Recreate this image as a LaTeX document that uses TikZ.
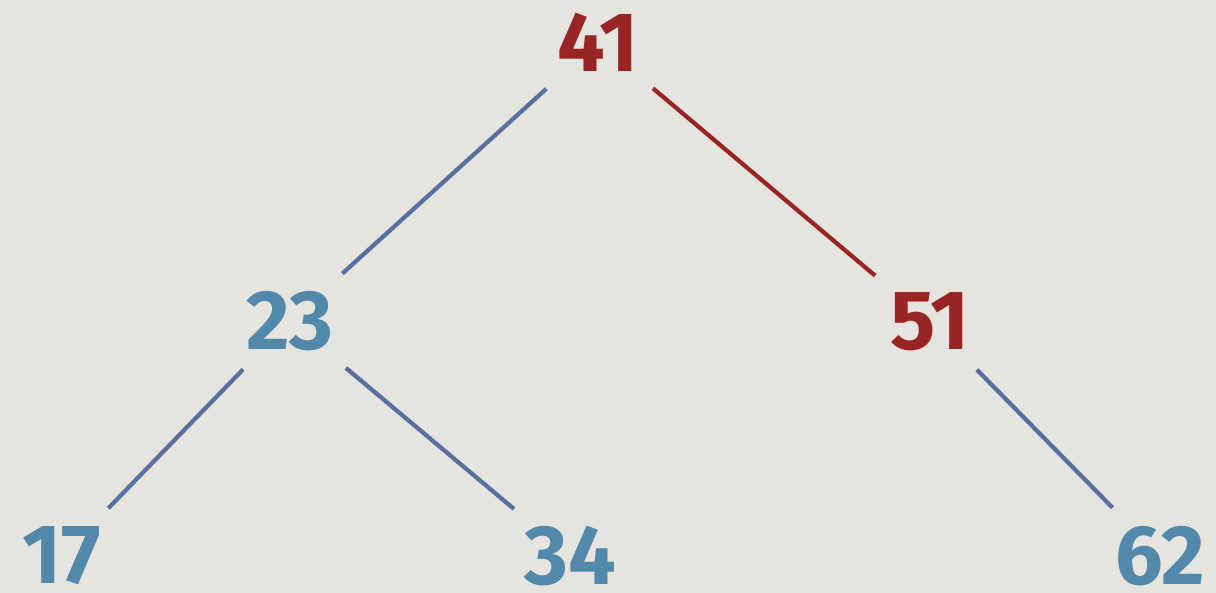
\documentclass[tikz,border=0pt]{standalone}
\usepackage{fontspec}
\setmainfont{Fira Sans}
\usetikzlibrary{positioning}
\definecolor{paper}{RGB}{229,228,223}
\definecolor{keyred}{RGB}{152,36,36}
\definecolor{keyblue}{RGB}{82,136,170}
\definecolor{edgeblue}{RGB}{88,112,160}
\tikzset{
  key/.style    = {inner sep=1pt,
                   font=\fontsize{24}{28}\selectfont\bfseries},
  redkey/.style = {key, text=keyred},
  bluekey/.style= {key, text=keyblue},
  edge/.style   = {line width=1.2pt, shorten <=0.2cm, shorten >=0.2cm},
  redge/.style  = {edge, draw=keyred},
  bedge/.style  = {edge, draw=edgeblue}
}

\begin{document}
\begin{tikzpicture}

  % ── Background ────────────────────────────────────────────────────────────
  \fill[paper] (0,0) rectangle (12.16,5.93);
  \useasboundingbox (0,0) rectangle (12.16,5.93);

  % ── Keys ──────────────────────────────────────────────────────────────────
  \node[redkey]  (K41) at (5.98,5.51) {41};
  \node[bluekey] (K23) at (2.90,2.72) {23};
  \node[redkey]  (K51) at (9.30,2.71) {51};
  \node[bluekey] (K17) at (0.62,0.37) {17};
  \node[bluekey] (K34) at (5.70,0.37) {34};
  \node[bluekey] (K62) at (11.60,0.37) {62};

  % ── Edges ─────────────────────────────────────────────────────────────────
  \draw[bedge] (K41) -- (K23);
  \draw[redge] (K41) -- (K51);
  \draw[bedge] (K23) -- (K17);
  \draw[bedge] (K23) -- (K34);
  \draw[bedge] (K51) -- (K62);

\end{tikzpicture}
\end{document}
